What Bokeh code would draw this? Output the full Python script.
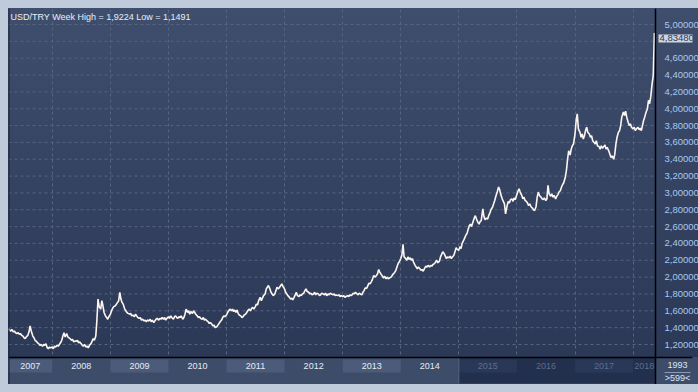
import pandas as pd
from bokeh.plotting import figure
from bokeh.models import (Range1d, FixedTicker, CustomJSTickFormatter, Span, Label,
                          ColumnDataSource)
from bokeh.core.properties import value
from bokeh.embed import file_html
from bokeh.resources import INLINE

# ---------------- data ----------------
title_text = "USD/TRY Week High = 1,9224 Low = 1,1491"
y_ticks = [1.2, 1.4, 1.6, 1.8, 2.0, 2.2, 2.4, 2.6, 2.8, 3.0,
           3.2, 3.4, 3.6, 3.8, 4.0, 4.2, 4.4, 4.6, 4.8, 5.0]
hidden_tick = 4.8          # covered by the last-value marker in the reference
year_labels = [2007, 2008, 2009, 2010, 2011, 2012, 2013, 2014, 2015, 2016, 2017, 2018]
dim_from_year = 2015
footer_top = "1993"
footer_bottom = ">599<"
first_month = "2007-04"
last_month = "2018-05"

# four readings per month (about weekly), Apr 2007 .. May 2018
usd_try_2007 = [1.39, 1.37, 1.36, 1.38,  1.35, 1.36, 1.34, 1.33,  1.34, 1.32, 1.33, 1.31,
                1.30, 1.28, 1.27, 1.29,  1.31, 1.35, 1.42, 1.36,  1.30, 1.28, 1.25, 1.24,
                1.22, 1.21, 1.19, 1.20,  1.18, 1.20, 1.19, 1.21,  1.16, 1.15, 1.17, 1.16]
usd_try_2008 = [1.17, 1.15, 1.18, 1.17,  1.19, 1.18, 1.20, 1.22,  1.25, 1.30, 1.34, 1.29,
                1.33, 1.29, 1.28, 1.27,  1.25, 1.26, 1.23, 1.24,  1.24, 1.25, 1.22, 1.23,
                1.21, 1.19, 1.18, 1.20,  1.17, 1.18, 1.16, 1.19,  1.21, 1.24, 1.27, 1.25,
                1.30, 1.49, 1.74, 1.65,  1.62, 1.72, 1.66, 1.58,  1.54, 1.52, 1.50, 1.53]
usd_try_2009 = [1.56, 1.60, 1.63, 1.65,  1.66, 1.68, 1.70, 1.72,  1.82, 1.74, 1.70, 1.68,
                1.62, 1.60, 1.58, 1.57,  1.56, 1.57, 1.54, 1.55,  1.53, 1.56, 1.54, 1.52,
                1.51, 1.52, 1.49, 1.50,  1.48, 1.49, 1.47, 1.49,  1.48, 1.50, 1.47, 1.49,
                1.46, 1.48, 1.50, 1.51,  1.49, 1.51, 1.50, 1.52,  1.50, 1.52, 1.49, 1.51]
usd_try_2010 = [1.53, 1.51, 1.54, 1.52,  1.50, 1.53, 1.54, 1.52,  1.51, 1.53, 1.52, 1.54,
                1.50, 1.52, 1.56, 1.62,  1.58, 1.60, 1.56, 1.59,  1.57, 1.60, 1.58, 1.56,
                1.54, 1.52, 1.53, 1.51,  1.50, 1.52, 1.49, 1.50,  1.48, 1.47, 1.45, 1.46,
                1.44, 1.42, 1.43, 1.40,  1.41, 1.43, 1.45, 1.47,  1.49, 1.52, 1.54, 1.53]
usd_try_2011 = [1.55, 1.58, 1.60, 1.62,  1.60, 1.62, 1.59, 1.61,  1.58, 1.61, 1.57, 1.55,
                1.54, 1.52, 1.53, 1.55,  1.56, 1.58, 1.60, 1.62,  1.60, 1.63, 1.64, 1.62,
                1.65, 1.68, 1.67, 1.72,  1.76, 1.72, 1.75, 1.78,  1.80, 1.86, 1.88, 1.90,
                1.86, 1.82, 1.80, 1.78,  1.80, 1.84, 1.88, 1.86,  1.88, 1.90, 1.92, 1.89]
usd_try_2012 = [1.86, 1.82, 1.80, 1.78,  1.76, 1.74, 1.75, 1.73,  1.76, 1.79, 1.82, 1.78,
                1.77, 1.79, 1.78, 1.80,  1.81, 1.84, 1.86, 1.83,  1.82, 1.80, 1.81, 1.79,
                1.80, 1.82, 1.79, 1.81,  1.80, 1.78, 1.79, 1.81,  1.80, 1.79, 1.81, 1.78,
                1.80, 1.79, 1.81, 1.80,  1.79, 1.80, 1.78, 1.79,  1.78, 1.79, 1.77, 1.78]
usd_try_2013 = [1.77, 1.78, 1.76, 1.77,  1.78, 1.77, 1.79, 1.78,  1.79, 1.81, 1.80, 1.82,
                1.80, 1.79, 1.81, 1.80,  1.79, 1.82, 1.84, 1.87,  1.87, 1.90, 1.93, 1.92,
                1.95, 1.98, 2.02, 2.00,  2.02, 2.04, 2.09, 2.06,  2.03, 2.01, 1.99, 2.01,
                1.98, 2.00, 1.98, 1.99,  2.00, 2.02, 2.04, 2.05,  2.08, 2.12, 2.16, 2.18]
usd_try_2014 = [2.22, 2.26, 2.39, 2.24,  2.22, 2.20, 2.24, 2.21,  2.23, 2.20, 2.22, 2.18,
                2.14, 2.12, 2.10, 2.12,  2.10, 2.08, 2.09, 2.07,  2.11, 2.13, 2.12, 2.14,
                2.12, 2.14, 2.13, 2.15,  2.16, 2.18, 2.20, 2.17,  2.19, 2.24, 2.27, 2.30,
                2.28, 2.25, 2.22, 2.24,  2.23, 2.25, 2.22, 2.24,  2.26, 2.30, 2.35, 2.33]
usd_try_2015 = [2.32, 2.36, 2.34, 2.40,  2.44, 2.47, 2.50, 2.52,  2.57, 2.61, 2.63, 2.60,
                2.66, 2.70, 2.73, 2.69,  2.65, 2.63, 2.66, 2.67,  2.81, 2.72, 2.68, 2.70,
                2.69, 2.73, 2.76, 2.80,  2.83, 2.87, 2.91, 2.96,  3.02, 3.07, 3.04, 2.98,
                2.93, 2.90, 2.87, 2.75,  2.85, 2.90, 2.88, 2.92,  2.93, 2.90, 2.94, 2.92]
usd_try_2016 = [2.98, 3.02, 3.05, 3.01,  2.97, 2.93, 2.95, 2.91,  2.90, 2.88, 2.85, 2.87,
                2.83, 2.82, 2.80, 2.79,  2.84, 2.95, 3.01, 2.97,  2.95, 2.93, 2.92, 2.94,
                2.91, 2.93, 3.09, 2.99,  2.96, 2.99, 2.95, 2.97,  2.93, 2.96, 2.98, 3.01,
                3.03, 3.07, 3.10, 3.12,  3.19, 3.27, 3.40, 3.50,  3.45, 3.52, 3.56, 3.58]
usd_try_2017 = [3.70, 3.86, 3.94, 3.76,  3.72, 3.66, 3.70, 3.64,  3.68, 3.74, 3.78, 3.72,
                3.70, 3.66, 3.68, 3.62,  3.60, 3.58, 3.62, 3.56,  3.55, 3.52, 3.56, 3.53,
                3.55, 3.57, 3.52, 3.54,  3.50, 3.46, 3.42, 3.44,  3.40, 3.46, 3.58, 3.66,
                3.72, 3.74, 3.80, 3.90,  3.96, 3.92, 3.97, 3.90,  3.84, 3.80, 3.82, 3.78]
usd_try_2018 = [3.76, 3.78, 3.74, 3.76,  3.78, 3.75, 3.77, 3.74,  3.80, 3.86, 3.90, 3.95,
                4.00, 4.10, 4.06, 4.14,  4.30, 4.40, 4.90, 4.8348]

rates = (usd_try_2007 + usd_try_2008 + usd_try_2009 + usd_try_2010 + usd_try_2011 +
         usd_try_2012 + usd_try_2013 + usd_try_2014 + usd_try_2015 + usd_try_2016 +
         usd_try_2017 + usd_try_2018)

months = pd.period_range(first_month, last_month, freq="M")
dates = [m.to_timestamp() + pd.Timedelta(days=d) for m in months for d in (0, 7, 14, 21)]
assert len(dates) == len(rates)

# ---------------- layout constants ----------------
FONT = "Liberation Sans"
FRAME_W, DATA_W, FRAME_H = 684, 647, 376
x_start = pd.Timestamp(months[0].to_timestamp())
x_end = pd.Timestamp(dates[-1])
ms_per_px = (x_end - x_start) / DATA_W
x_plot_end = x_start + ms_per_px * FRAME_W
Y0, Y1 = 0.725, 5.19            # data range of the frame (band included at the bottom)
BAND_TOP, BOX_TOP, BOX_BOT = 1.0456, 1.022, 0.867
LBL_Y, FOOT1_Y, FOOT2_Y = 0.9446, 0.954, 0.808

p = figure(frame_width=FRAME_W, frame_height=FRAME_H, x_axis_type="datetime",
           x_axis_location=None, y_axis_location="right",
           x_range=Range1d(x_start.to_pydatetime(), x_plot_end.to_pydatetime()),
           y_range=Range1d(Y0, Y1),
           output_backend="svg", toolbar_location=None, min_border=0)
p.background_fill_color = None
p.border_fill_color = None
p.outline_line_color = None
p.styles = {"background": "linear-gradient(to bottom, #3f4e6d 0px, #2b3856 349px, "
                          "#3d4c69 349px, #3d4c69 100%)"}

# right axis: labels drawn back over the right-hand panel
ax = p.yaxis[0]
ax.ticker = FixedTicker(ticks=y_ticks)
ax.formatter = CustomJSTickFormatter(code="return tick.toFixed(5).replace('.', ',');")
ax.major_label_overrides = {hidden_tick: ""}
ax.major_label_text_font = FONT
ax.major_label_text_font_size = "9.5px"
ax.major_label_text_color = "#a9c8ef"
ax.major_label_standoff = -34
ax.major_tick_line_color = None
ax.minor_tick_line_color = None
ax.axis_line_color = None

# grids
year_starts = [pd.Timestamp(f"{y}-01-01") for y in year_labels]
p.ygrid.grid_line_color = None
p.xgrid.ticker = FixedTicker(ticks=[t.timestamp() * 1000 for t in year_starts[1:]])
p.xgrid.grid_line_color = "#55647f"
p.xgrid.grid_line_dash = "3 3"
p.segment(x0=[x_start] * len(y_ticks), x1=[x_end] * len(y_ticks), y0=y_ticks, y1=y_ticks,
          line_color="#55647f", line_dash="3 3", line_width=1)

# bottom year band
lefts = [max(t, x_start) for t in year_starts]
rights = [min(t, x_end) for t in year_starts[1:] + [pd.Timestamp(f"{year_labels[-1] + 1}-01-01")]]
mids = [l + (r - l) / 2 for l, r in zip(lefts, rights)]
dim = [y >= dim_from_year for y in year_labels]

p.quad(left=[x_start], right=[x_end], bottom=[Y0], top=[BAND_TOP], fill_color="#3d4c69", line_color=None)
dim_left = pd.Timestamp(f"{dim_from_year}-01-01")
p.quad(left=[dim_left], right=[x_end], bottom=[Y0 + 0.012], top=[BAND_TOP], fill_color="#222f4d",
       line_color=None)
box_src = ColumnDataSource(dict(
    left=[l for i, l in enumerate(lefts) if i % 2 == 0],
    right=[r for i, r in enumerate(rights) if i % 2 == 0],
    color=["#2a3858" if dim[i] else "#4b5b79" for i in range(len(lefts)) if i % 2 == 0]))
p.quad(left="left", right="right", bottom=BOX_BOT, top=BOX_TOP, fill_color="color",
       line_color=None, source=box_src)
p.segment(x0=[dim_left], x1=[dim_left], y0=[Y0 + 0.012], y1=[BAND_TOP], line_color="#56647f", line_width=1)
lbl_src = ColumnDataSource(dict(x=mids, y=[LBL_Y] * len(mids), text=[str(y) for y in year_labels],
                                color=["#5d6e8e" if d else "#e4ecf8" for d in dim]))
p.text(x="x", y="y", text="text", text_color="color", text_align="center", text_baseline="middle",
       text_font=value(FONT), text_font_size="9px", source=lbl_src)

# frame lines
p.add_layout(Span(location=BAND_TOP, dimension="width", line_color="black", line_width=1.5))
p.add_layout(Span(location=x_end.to_pydatetime(), dimension="height", line_color="black", line_width=1.5))
p.add_layout(Span(location=x_start.to_pydatetime(), dimension="height", line_color="#1b2334", line_width=2))

# price line
p.line(x=dates, y=rates, line_color="#fdf6f0", line_width=1.6)

# texts
p.add_layout(Label(x=x_start, y=Y1, x_offset=2, y_offset=-3, text=title_text,
                   text_baseline="top", text_font=FONT, text_font_size="9px", text_color="#e8eef8"))
p.add_layout(Label(x=x_end, y=rates[-1], x_offset=3, text=f"{rates[-1]:.5f}".replace(".", ","),
                   text_baseline="middle", text_font=FONT, text_font_size="9.5px", text_color="#2b3957",
                   background_fill_color="#cfd5df", padding=1))
p.add_layout(Label(x=x_end, y=FOOT1_Y, x_offset=22, text=footer_top, text_align="center",
                   text_baseline="middle", text_font=FONT, text_font_size="9px", text_color="#dde6f4"))
p.add_layout(Label(x=x_end, y=FOOT2_Y, x_offset=22, text=footer_bottom, text_align="center",
                   text_baseline="middle", text_font=FONT, text_font_size="9px", text_color="#dde6f4"))
p.segment(x0=[x_end + ms_per_px * 9], x1=[x_end + ms_per_px * 35], y0=[BOX_BOT], y1=[BOX_BOT],
          line_color="#8e9cb6", line_width=1)

html = file_html(p, INLINE)
html = html.replace("</head>", "<style>html,body{background:#bfcadb;} body{padding:8px;}</style></head>", 1)
open("out.html", "w").write(html)
